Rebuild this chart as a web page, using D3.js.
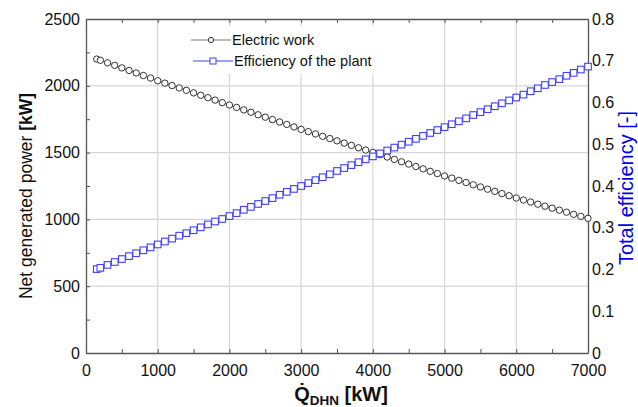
<!DOCTYPE html>
<html>
<head>
<meta charset="utf-8">
<script src="https://cdn.jsdelivr.net/npm/d3@7"></script>
<style>
  html, body { margin: 0; padding: 0; background: #fff; }
  svg { display: block; font-family: "Liberation Sans", Arial, sans-serif; }
</style>
</head>
<body>
<svg id="chart" width="638" height="407"></svg>
<script>
// District heating load [kW]
const heatLoad = [150, 200, 300, 400, 500, 600, 700, 800, 900, 1000,
  1100, 1200, 1300, 1400, 1500, 1600, 1700, 1800, 1900, 2000,
  2100, 2200, 2300, 2400, 2500, 2600, 2700, 2800, 2900, 3000,
  3100, 3200, 3300, 3400, 3500, 3600, 3700, 3800, 3900, 4000,
  4100, 4200, 4300, 4400, 4500, 4600, 4700, 4800, 4900, 5000,
  5100, 5200, 5300, 5400, 5500, 5600, 5700, 5800, 5900, 6000,
  6100, 6200, 6300, 6400, 6500, 6600, 6700, 6800, 6900, 7000];

// Net electric output [kW]
const electricWork = [2200, 2191, 2172, 2153, 2134, 2115, 2096, 2077, 2058, 2038,
  2020, 2002, 1984, 1966, 1947, 1929, 1911, 1893, 1874, 1856,
  1838, 1820, 1802, 1783, 1765, 1747, 1729, 1711, 1692, 1674,
  1657, 1640, 1622, 1605, 1588, 1571, 1554, 1536, 1519, 1502,
  1484, 1467, 1449, 1431, 1414, 1396, 1378, 1360, 1343, 1325,
  1309, 1292, 1276, 1259, 1243, 1226, 1210, 1193, 1177, 1160,
  1145, 1130, 1114, 1099, 1084, 1069, 1054, 1038, 1023, 1008];

// Total plant efficiency [-]
const plantEfficiency = [0.201, 0.204, 0.211, 0.218, 0.225, 0.232, 0.239, 0.246, 0.253, 0.260,
  0.267, 0.274, 0.281, 0.287, 0.294, 0.301, 0.308, 0.315, 0.321, 0.328,
  0.335, 0.343, 0.350, 0.357, 0.364, 0.371, 0.379, 0.386, 0.393, 0.400,
  0.407, 0.414, 0.421, 0.428, 0.436, 0.443, 0.450, 0.457, 0.464, 0.471,
  0.478, 0.485, 0.492, 0.499, 0.506, 0.513, 0.520, 0.527, 0.534, 0.541,
  0.548, 0.555, 0.562, 0.570, 0.577, 0.584, 0.591, 0.598, 0.605, 0.612,
  0.619, 0.627, 0.634, 0.642, 0.649, 0.656, 0.664, 0.671, 0.679, 0.686];

const xTicks = [0, 1000, 2000, 3000, 4000, 5000, 6000, 7000];
const leftTicks = [0, 500, 1000, 1500, 2000, 2500];
const rightTicks = [0, 0.1, 0.2, 0.3, 0.4, 0.5, 0.6, 0.7, 0.8];
const seriesNames = ["Electric work", "Efficiency of the plant"];

const svg = d3.select("#chart");
const L = 86, R = 588, T = 19, B = 353;

const x = d3.scaleLinear().domain([0, 7000]).range([L, R]);
const yL = d3.scaleLinear().domain([0, 2500]).range([B, T]);
const yR = d3.scaleLinear().domain([0, 0.8]).range([B, T]);

const frameColor = "#555";
const gridColor = "#d6d6d6";
const blue = "#4040ff";

// grid
const grid = svg.append("g");
grid.selectAll("line.v").data(xTicks.filter(d => d > 0 && d < 7000)).join("line")
  .attr("x1", d => x(d)).attr("x2", d => x(d)).attr("y1", T).attr("y2", B)
  .attr("stroke", gridColor).attr("stroke-width", 1.2);
grid.selectAll("line.h").data(leftTicks.filter(d => d > 0 && d < 2500)).join("line")
  .attr("x1", L).attr("x2", R).attr("y1", d => yL(d)).attr("y2", d => yL(d))
  .attr("stroke", gridColor).attr("stroke-width", 1.2);

// axes
const fs = "16px";
const axBottom = svg.append("g").attr("transform", `translate(0,${B})`)
  .call(d3.axisBottom(x).tickValues(d3.range(0, 7001, 500)).tickSize(-4).tickSizeOuter(0)
    .tickFormat(d => xTicks.includes(d) ? d : ""));
const axTop = svg.append("g").attr("transform", `translate(0,${T})`)
  .call(d3.axisTop(x).tickValues(d3.range(0, 7001, 500)).tickSize(-4).tickSizeOuter(0).tickFormat(""));
const axLeft = svg.append("g").attr("transform", `translate(${L},0)`)
  .call(d3.axisLeft(yL).tickValues(d3.range(0, 2501, 250)).tickSize(-4).tickSizeOuter(0)
    .tickFormat(d => leftTicks.includes(d) ? d : ""));
const axRight = svg.append("g").attr("transform", `translate(${R},0)`)
  .call(d3.axisRight(yR).tickValues(rightTicks).tickSize(0).tickSizeOuter(0)
    .tickFormat(d => d === 0 ? "0" : d3.format(".1f")(d)));

[axBottom, axTop, axLeft, axRight].forEach(g => {
  g.select(".domain").attr("stroke", frameColor).attr("stroke-width", 1.3);
  g.selectAll(".tick line").attr("stroke", frameColor).attr("stroke-width", 1);
  g.selectAll("text").attr("fill", "#111").style("font-size", fs)
    .style("font-family", "'Liberation Sans', Arial, sans-serif");
});
axBottom.selectAll("text").attr("dy", "1.05em").attr("y", 6);
axLeft.selectAll("text").attr("x", -6);
axRight.selectAll("text").attr("x", 4);

// series lines
const lineE = d3.line().x((d, i) => x(heatLoad[i])).y(d => yL(d));
const lineP = d3.line().x((d, i) => x(heatLoad[i])).y(d => yR(d));
svg.append("path").datum(electricWork).attr("d", lineE)
  .attr("fill", "none").attr("stroke", "#777").attr("stroke-width", 1);
svg.append("path").datum(plantEfficiency).attr("d", lineP)
  .attr("fill", "none").attr("stroke", blue).attr("stroke-width", 1);

// markers
svg.append("g").selectAll("circle").data(electricWork).join("circle")
  .attr("cx", (d, i) => x(heatLoad[i])).attr("cy", d => yL(d)).attr("r", 3.2)
  .attr("fill", "#fff").attr("stroke", "#333").attr("stroke-width", 1);
const sq = 6.6;
svg.append("g").selectAll("rect").data(plantEfficiency).join("rect")
  .attr("x", (d, i) => x(heatLoad[i]) - sq / 2).attr("y", d => yR(d) - sq / 2)
  .attr("width", sq).attr("height", sq)
  .attr("fill", "#fff").attr("stroke", blue).attr("stroke-width", 1.1);

// legend
const leg = svg.append("g");
leg.append("rect").attr("x", 186).attr("y", 26).attr("width", 194).attr("height", 48).attr("fill", "#fff");
const rows = [
  { y: 40, color: "#777", mark: "circle", mc: "#333", lx: 191, mx: 211, tx: 232 },
  { y: 61, color: blue, mark: "rect", mc: blue, lx: 193, mx: 213, tx: 234 }
];
rows.forEach((r, i) => {
  leg.append("line").attr("x1", r.lx).attr("x2", r.lx + 40).attr("y1", r.y).attr("y2", r.y)
    .attr("stroke", r.color).attr("stroke-width", 1);
  if (r.mark === "circle") {
    leg.append("circle").attr("cx", r.mx).attr("cy", r.y).attr("r", 2.6)
      .attr("fill", "#fff").attr("stroke", r.mc);
  } else {
    leg.append("rect").attr("x", r.mx - 3).attr("y", r.y - 3).attr("width", 6).attr("height", 6)
      .attr("fill", "#fff").attr("stroke", r.mc);
  }
  leg.append("text").attr("x", r.tx).attr("y", r.y).attr("dy", "0.35em")
    .style("font-size", "14.5px").attr("fill", "#111").text(seriesNames[i]);
});

// axis titles
const yt = svg.append("text").attr("transform", `translate(32,${(T + B) / 2 + 10}) rotate(-90)`)
  .attr("text-anchor", "middle").style("font-size", "17.5px").attr("fill", "#111");
yt.append("tspan").text("Net generated power ");
yt.append("tspan").attr("font-weight", "bold").text("[kW]");

svg.append("text").attr("transform", `translate(633,${(T + B) / 2 + 2}) rotate(-90)`)
  .attr("text-anchor", "middle").style("font-size", "20px").attr("fill", "#0000ee")
  .text("Total efficiency [-]");

const xt = svg.append("text").attr("x", (L + R) / 2 + 4).attr("y", 401)
  .attr("text-anchor", "middle").style("font-size", "20px").attr("font-weight", "bold").attr("fill", "#111");
xt.append("tspan").text("Q\u0307");
xt.append("tspan").attr("dy", 4).style("font-size", "13.5px").text("DHN");
xt.append("tspan").attr("dy", -4).text(" [kW]");
</script>
</body>
</html>
